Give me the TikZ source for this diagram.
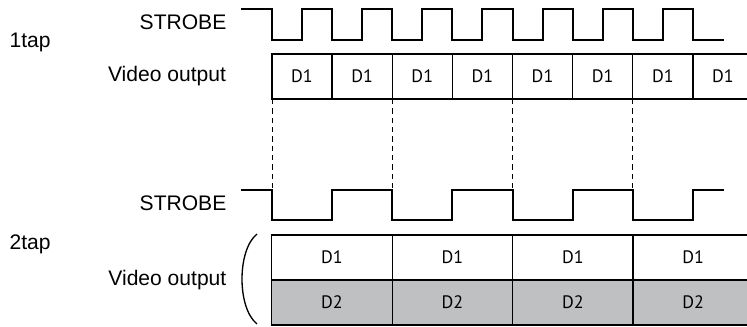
\documentclass[tikz,border=0pt]{standalone}
\usepackage{fontspec}
\setmainfont{Liberation Sans}
\newfontfamily\cellfont{PT Sans}
\usepackage{tikz}
\usetikzlibrary{positioning}
\definecolor{tapgray}{RGB}{191,192,194}

\begin{document}
\begin{tikzpicture}[x=0.75pt, y=-0.75pt, node distance=0pt, line width=1pt]
\tikzstyle{lbl}=[inner sep=0pt, font=\fontsize{15.8}{18}\selectfont]
\tikzstyle{cell}=[draw, outer sep=0pt, inner sep=0pt, minimum width=45.1pt, minimum height=33.75pt, font=\cellfont\fontsize{13.5}{16}\selectfont]
\tikzstyle{wide}=[cell, minimum width=90.3pt]
\clip (0,0) rectangle (747,327);

\node[lbl, anchor=west] (tap1) at (9,42) {1tap};
\node[lbl, anchor=east] (strobe1) at (227,22) {STROBE};

\node[cell] (o1) at (302,76.5) {D1};
\node[cell] (o2) [right=of o1] {D1};
\node[cell] (o3) [right=of o2] {D1};
\node[cell] (o4) [right=of o3] {D1};
\node[cell] (o5) [right=of o4] {D1};
\node[cell] (o6) [right=of o5] {D1};
\node[cell] (o7) [right=of o6] {D1};
\node[cell] (o8) [right=of o7] {D1};
\node[lbl, anchor=east] (video1) [left=34pt of o1] {Video output};

\draw (241,9) -- (272,9) -- (272,40) -- (302,40) -- (302,9) -- (332,9) -- (332,40)
  -- (362,40) -- (362,9) -- (392,9) -- (392,40) -- (422,40) -- (422,9) -- (452,9)
  -- (452,40) -- (482,40) -- (482,9) -- (513,9) -- (513,40) -- (543,40) -- (543,9)
  -- (573,9) -- (573,40) -- (603,40) -- (603,9) -- (633,9) -- (633,40) -- (663,40)
  -- (663,9) -- (693,9) -- (693,40) -- (724,40);

\node[lbl, anchor=west] (tap2) at (9,244) {2tap};
\node[lbl, anchor=east] (strobe2) at (227,203) {STROBE};

\node[wide] (p1) at (332,257.5) {D1};
\node[wide] (p2) [right=of p1] {D1};
\node[wide] (p3) [right=of p2] {D1};
\node[wide] (p4) [right=of p3] {D1};
\node[wide, fill=tapgray] (q1) [below=of p1] {D2};
\node[wide, fill=tapgray] (q2) [below=of p2] {D2};
\node[wide, fill=tapgray] (q3) [below=of p3] {D2};
\node[wide, fill=tapgray] (q4) [below=of p4] {D2};
\node[lbl, anchor=east] (video2) at (227,280) {Video output};

\draw (241,190) -- (272,190) -- (272,220) -- (332,220) -- (332,190) -- (392,190)
  -- (392,220) -- (452,220) -- (452,190) -- (513,190) -- (513,220) -- (573,220)
  -- (573,190) -- (633,190) -- (633,220) -- (693,220) -- (693,190) -- (724,190);

\draw (257,234) .. controls (237,250) and (237,308) .. (257,324);

\path[line width=0.6pt, dash pattern=on 4pt off 3pt] (o1.south west) edge (o1.south west |- 0,190)
  (o3.south west) edge (o3.south west |- 0,190)
  (o5.south west) edge (o5.south west |- 0,190)
  (o7.south west) edge (o7.south west |- 0,190);
\end{tikzpicture}
\end{document}
